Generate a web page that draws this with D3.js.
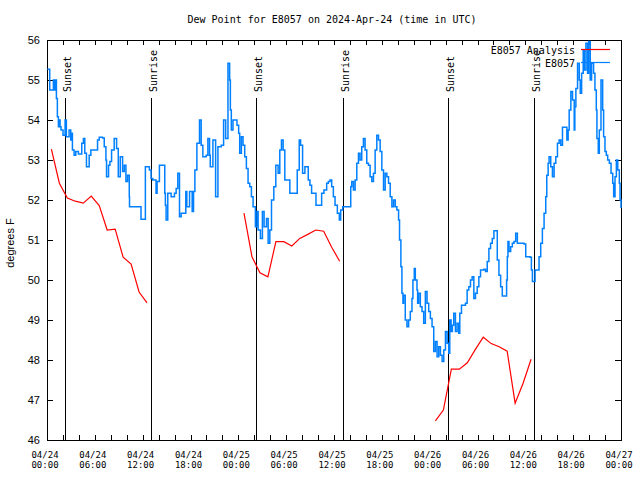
<!DOCTYPE html>
<html><head><meta charset="utf-8">
<script src="https://cdn.jsdelivr.net/npm/d3@7"></script>
<style>body{margin:0;background:#fff}</style>
</head><body>
<svg id="c" width="640" height="480" xmlns="http://www.w3.org/2000/svg"></svg>
<script>
const title = "Dew Point for E8057 on 2024-Apr-24 (time in UTC)";
const yLabel = "degrees F";
const startTime = "2024-04-24T00:00:00Z";
const spanHours = 72;
const yTicks = [46, 47, 48, 49, 50, 51, 52, 53, 54, 55, 56];
const xLabelHours = [0, 6, 12, 18, 24, 30, 36, 42, 48, 54, 60, 66, 72];
const xTickHours = [0,2,4,6,8,10,12,14,16,18,20,22,24,26,28,30,32,34,36,38,40,42,44,46,48,50,52,54,56,58,60,62,64,66,68,70,72];
const eventTimes = ["2024-04-24T02:18:00Z","2024-04-24T13:03:00Z","2024-04-25T02:13:00Z","2024-04-25T13:10:00Z","2024-04-26T02:20:00Z","2024-04-26T13:08:00Z"];
const eventLabels = ["Sunset","Sunrise","Sunset","Sunrise","Sunset","Sunrise"];
const seriesNames = ["E8057 Analysis", "E8057"];
const seriesColors = ["#ff0000", "#0080ff"];

// observed series (hours since start, degrees F)
const obsHours = [0.04,0.34,0.59,0.80,0.97,1.09,1.18,1.30,1.43,1.51,1.64,1.76,2.01,2.27,2.43,2.77,2.98,3.06,3.19,3.40,3.61,3.94,4.11,4.36,4.57,4.74,4.95,5.08,5.29,5.50,6.13,6.34,6.55,6.97,7.18,7.39,7.47,7.72,7.89,8.10,8.43,8.64,8.73,8.94,9.19,9.48,9.69,9.90,10.11,10.32,10.35,11.58,11.79,12.21,12.34,12.50,12.84,13.05,13.26,13.47,13.68,13.81,14.10,14.60,14.77,14.85,14.94,15.15,15.57,15.99,16.20,16.41,16.62,16.83,17.25,17.41,17.54,17.88,18.21,18.38,18.55,18.80,19.13,19.34,19.55,19.97,20.18,20.39,20.48,20.81,21.15,21.44,21.86,22.15,22.28,22.41,22.70,22.91,23.00,23.12,23.33,23.67,23.83,24.04,24.17,24.38,24.59,24.80,25.01,25.22,25.43,25.64,25.85,26.14,26.35,26.48,26.60,26.77,27.02,27.23,27.53,27.74,27.95,28.16,28.45,28.70,28.99,29.20,29.41,29.62,29.83,30.25,30.46,31.22,31.39,31.64,31.81,32.06,32.35,32.56,32.77,32.98,33.19,33.40,33.74,34.24,34.45,34.74,35.08,35.29,35.50,35.71,35.92,36.13,36.42,36.67,36.84,37.09,37.93,38.10,38.23,38.44,38.65,38.86,39.07,39.27,39.48,39.69,39.90,40.11,40.32,40.53,40.74,40.95,41.16,41.37,41.58,41.79,42.00,42.21,42.42,42.63,42.84,43.05,43.26,43.47,43.68,43.89,44.10,44.22,44.39,44.52,44.65,44.73,44.94,45.15,45.36,45.57,45.78,45.90,46.07,46.20,46.41,46.49,46.62,46.83,47.04,47.25,47.46,47.67,47.88,48.09,48.30,48.51,48.72,48.93,49.14,49.35,49.56,49.77,49.98,50.19,50.39,50.52,50.69,50.85,51.02,51.23,51.44,51.65,51.78,51.99,52.49,52.70,52.91,53.12,53.33,53.54,53.75,53.96,54.17,54.38,54.80,55.01,55.22,55.43,55.64,55.85,56.06,56.35,56.48,56.69,56.90,57.11,57.53,57.65,57.74,57.82,57.95,58.16,58.37,58.58,58.79,59.00,59.84,60.05,60.59,60.76,60.89,61.09,61.22,61.51,61.72,61.93,62.14,62.35,62.56,62.69,62.86,62.98,63.19,63.40,63.61,63.82,64.03,64.24,64.45,64.66,64.95,65.21,65.37,65.50,65.71,65.92,66.13,66.21,66.34,66.55,66.76,66.89,67.06,67.26,67.39,67.60,67.81,67.94,68.14,68.31,68.56,68.73,68.90,68.98,69.15,69.28,69.49,69.70,69.82,69.99,70.16,70.33,70.54,70.75,70.96,71.08,71.25,71.42,71.59,71.79,71.88,72.0];
const obsValues = [55.27,54.75,54.75,55.0,54.75,55.0,54.54,54.08,53.83,54.0,53.83,53.75,53.62,54.0,53.58,53.75,53.5,53.67,53.25,53.12,53.21,53.15,53.15,53.42,53.54,53.17,52.83,52.83,53.12,53.25,53.25,53.5,53.57,53.55,53.33,53.0,52.58,52.87,52.96,53.25,53.54,53.54,53.29,52.58,53.08,52.71,52.87,52.46,52.62,52.08,51.83,51.83,51.52,51.52,52.83,52.83,52.75,52.54,52.5,52.5,52.17,52.46,52.87,52.87,52.17,51.87,51.5,52.17,52.08,52.17,52.29,52.67,51.58,51.67,51.67,52.21,51.83,52.21,51.71,52.21,52.75,53.42,54.0,53.37,53.08,53.12,53.54,53.12,52.83,53.5,52.08,53.33,53.37,54.0,54.0,53.54,55.42,55.0,54.25,53.75,54.0,54.0,53.87,53.67,53.17,53.58,53.37,53.08,52.79,52.42,52.33,52.08,51.83,51.33,51.71,51.25,51.25,51.04,51.71,51.33,51.54,50.92,51.25,52.0,52.33,52.87,52.67,53.25,53.5,53.25,52.5,52.5,52.17,52.17,52.75,53.5,53.37,52.67,52.83,52.83,52.5,52.37,52.17,52.17,51.87,51.87,52.17,52.25,52.42,52.46,52.5,52.33,52.08,51.87,51.67,51.5,51.75,51.83,51.83,52.33,52.46,52.25,52.5,52.92,53.17,53.0,53.33,53.54,53.25,52.92,52.87,52.58,52.46,52.67,53.25,53.62,53.5,53.21,52.75,52.25,52.67,52.58,52.42,52.08,51.83,52.0,51.83,51.75,51.5,51.0,50.33,49.67,49.42,49.62,49.0,48.83,49.0,49.21,49.54,50.0,50.29,50.0,49.75,49.42,49.67,49.33,49.21,48.92,49.71,49.42,49.21,49.04,48.83,48.21,48.46,48.08,48.33,48.12,47.96,48.25,48.71,48.42,48.17,49.0,48.71,48.87,49.17,48.71,48.92,48.67,49.17,49.37,49.42,49.75,49.83,50.0,50.08,49.54,49.67,49.83,50.08,50.25,50.27,50.21,50.46,50.79,50.92,51.04,51.23,51.23,50.5,50.12,49.83,49.6,49.6,50.0,50.58,50.96,50.71,50.83,50.92,50.96,51.17,50.92,50.9,50.58,50.57,50.25,49.96,49.96,50.25,50.25,50.58,50.92,51.29,51.67,52.08,52.62,52.92,53.08,52.83,52.58,52.92,53.08,53.42,53.5,53.37,53.82,53.82,53.5,53.75,54.25,54.71,54.5,53.75,54.33,54.79,55.42,55.0,54.67,55.17,55.75,55.25,55.92,55.17,55.96,55.0,55.42,55.17,54.75,54.25,53.54,53.17,53.75,55.0,54.25,53.58,53.21,53.12,53.0,52.92,52.67,52.42,52.08,52.58,53.0,52.75,52.42,52.0,51.8];

// analysis series (null = gap)
const anaHours = [0.55,1.55,2.55,3.55,4.55,5.55,6.55,7.55,8.55,9.55,10.55,11.55,12.55,18.0,
  24.71,25.71,26.71,27.71,28.71,29.71,30.71,31.71,32.71,33.71,34.71,35.71,36.71,42.0,
  48.72,49.72,50.72,51.72,52.72,53.72,54.72,55.72,56.72,57.72,58.72,59.72,60.72];
const anaValues = [53.27,52.42,52.05,51.97,51.92,52.1,51.86,51.25,51.27,50.57,50.4,49.7,49.43,null,
  51.67,50.58,50.18,50.08,50.96,50.96,50.85,51.04,51.14,51.25,51.22,50.82,50.47,null,
  46.48,46.75,47.77,47.77,47.93,48.26,48.57,48.41,48.33,48.22,46.92,47.42,48.02];

const mono = "'DejaVu Sans Mono', monospace";
const sans = "'Liberation Sans', Arial, sans-serif";

const t0 = new Date(startTime);
const hourToDate = h => new Date(t0.getTime() + h * 3600e3);

const svg = d3.select("#c");
const L = 47, R = 621, T = 40, B = 440;
const x = d3.scaleUtc().domain([t0, hourToDate(spanHours)]).range([L, R]);
const y = d3.scaleLinear().domain([yTicks[0], yTicks[yTicks.length - 1]]).range([B, T]);
const px = v => Math.round(v) + 0.5;

svg.append("rect").attr("width", 640).attr("height", 480).attr("fill", "#fff");

// ticks
const tickDates = xTickHours.map(hourToDate);
const styleAxis = g => {
  g.select(".domain").remove();
  g.selectAll("line").attr("stroke", "#000").attr("shape-rendering", "crispEdges");
};
svg.append("g").attr("transform", `translate(0,${B})`)
  .call(d3.axisBottom(x).tickValues(tickDates).tickSize(-5).tickFormat(""))
  .call(styleAxis);
svg.append("g").attr("transform", `translate(0,${T})`)
  .call(d3.axisTop(x).tickValues(tickDates).tickSize(-5).tickFormat(""))
  .call(styleAxis);
const yl = svg.append("g").attr("transform", `translate(${L},0)`)
  .call(d3.axisLeft(y).tickValues(yTicks).tickSize(-6).tickPadding(7).tickFormat(d3.format("d")))
  .call(styleAxis);
yl.selectAll("text").attr("font-family", sans).attr("font-size", 11).attr("fill", "#000");
svg.append("g").attr("transform", `translate(${R},0)`)
  .call(d3.axisRight(y).tickValues(yTicks).tickSize(-6).tickFormat(""))
  .call(styleAxis);

// x labels
const fmtD = d3.utcFormat("%m/%d"), fmtT = d3.utcFormat("%H:%M");
const xl = svg.append("g").attr("font-family", mono).attr("font-size", 9).attr("text-anchor", "middle");
xLabelHours.forEach(h => {
  const d = hourToDate(h);
  const t = xl.append("text").attr("x", x(d) - 2);
  t.append("tspan").attr("x", x(d) - 2).attr("y", 458).text(fmtD(d));
  t.append("tspan").attr("x", x(d) - 2).attr("y", 468).text(fmtT(d));
});

// border
svg.append("rect").attr("x", L).attr("y", T).attr("width", R - L).attr("height", B - T)
  .attr("fill", "none").attr("stroke", "#000").attr("shape-rendering", "crispEdges");

// title & y label
svg.append("text").attr("x", 332).attr("y", 23).attr("text-anchor", "middle")
  .attr("font-family", mono).attr("font-size", 10).text(title);
svg.append("text").attr("transform", "translate(14,243) rotate(-90)").attr("text-anchor", "middle")
  .attr("font-family", sans).attr("font-size", 11).text(yLabel);

// sunrise/sunset markers
eventTimes.forEach((s, i) => {
  const xx = px(x(new Date(s)));
  svg.append("line").attr("x1", xx).attr("x2", xx).attr("y1", 98).attr("y2", B)
    .attr("stroke", "#000").attr("shape-rendering", "crispEdges");
  svg.append("text").attr("transform", `translate(${xx + 5.5},92) rotate(-90)`)
    .attr("font-family", mono).attr("font-size", 10).text(eventLabels[i]);
});

// series
const anaData = anaHours.map((h, i) => ({ t: hourToDate(h), v: anaValues[i] }));
const obsData = obsHours.map((h, i) => ({ t: hourToDate(h), v: obsValues[i] }));

svg.append("path").datum(anaData)
  .attr("d", d3.line().defined(d => d.v != null).x(d => x(d.t)).y(d => y(d.v)))
  .attr("fill", "none").attr("stroke", seriesColors[0]).attr("stroke-width", 1.2);
svg.append("path").datum(obsData)
  .attr("d", d3.line().curve(d3.curveStepAfter).x(d => x(d.t)).y(d => y(d.v)))
  .attr("fill", "none").attr("stroke", seriesColors[1]).attr("stroke-width", 1.5)
  .attr("stroke-linejoin", "miter");

// legend
seriesNames.forEach((n, i) => {
  const ly = 49.5 + i * 13;
  svg.append("text").attr("x", 575).attr("y", ly + 4.5).attr("text-anchor", "end")
    .attr("font-family", mono).attr("font-size", 10).text(n);
  svg.append("line").attr("x1", 581).attr("x2", 610).attr("y1", ly).attr("y2", ly)
    .attr("stroke", seriesColors[i]).attr("stroke-width", 1.2);
});
</script>
</body></html>
